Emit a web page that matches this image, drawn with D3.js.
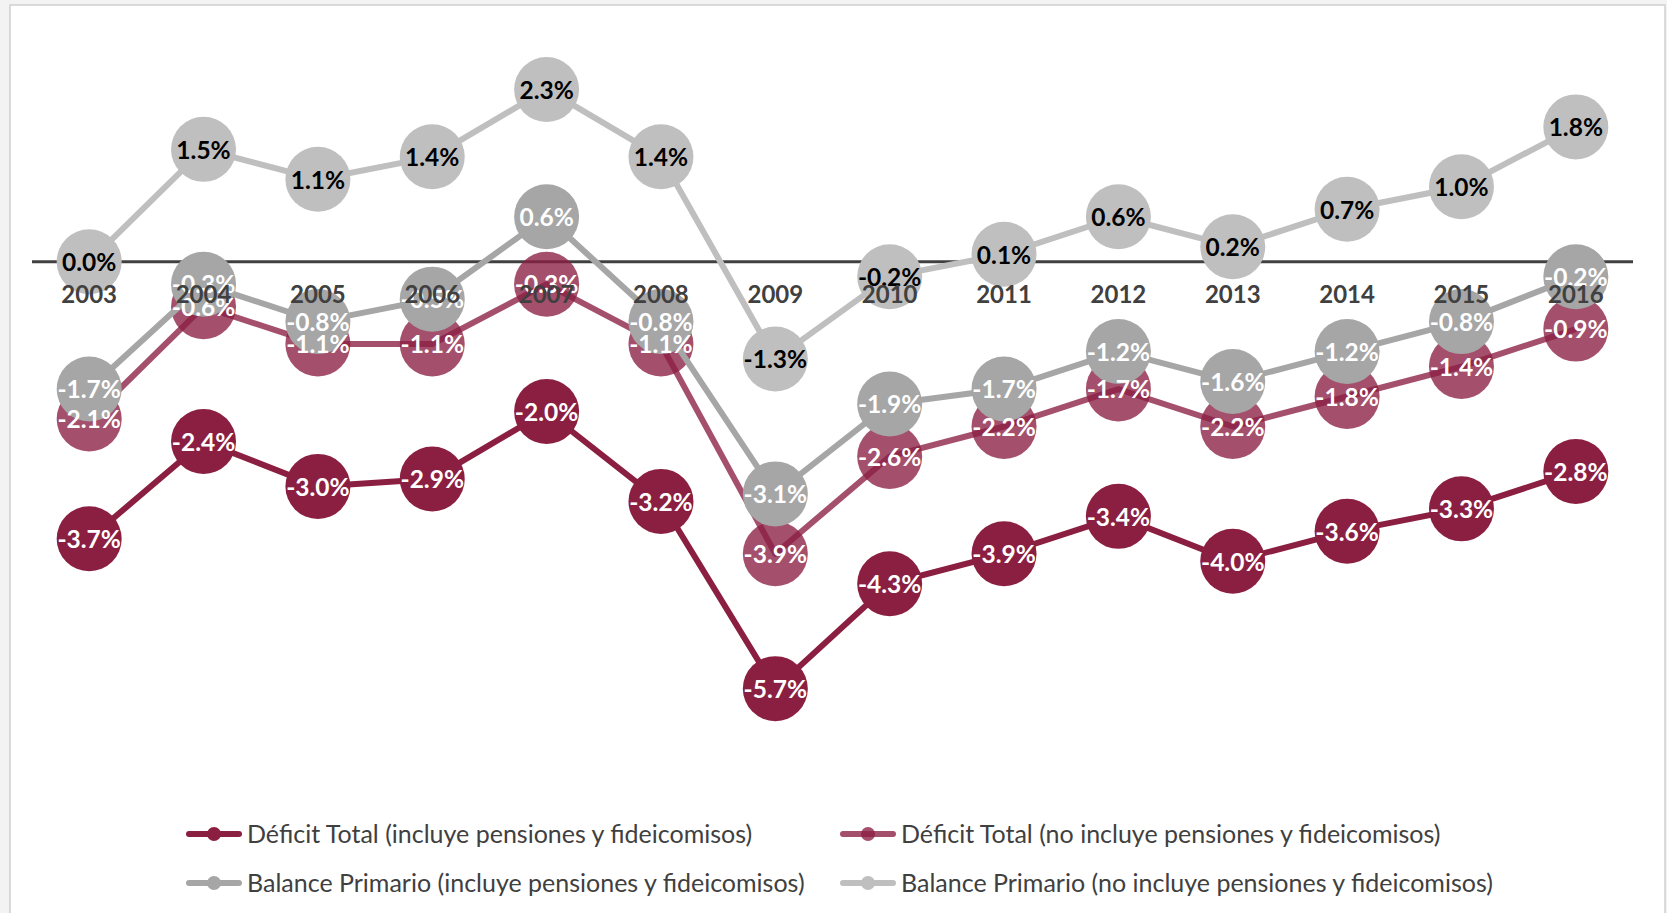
<!DOCTYPE html>
<html>
<head>
<meta charset="utf-8">
<script src="https://cdn.jsdelivr.net/npm/d3@7"></script>
<style>
  body { margin: 0; background: #f3f3f3; }
  svg { display: block; }
  .dlabel { font-family: Lato, "Open Sans", sans-serif; font-weight: 700; font-size: 24.5px; }
  .year { font-family: Lato, "Open Sans", sans-serif; font-weight: 700; font-size: 24px; fill: #404040; }
  .legtext { font-family: Lato, "Open Sans", sans-serif; font-size: 25px; fill: #404040; }
</style>
</head>
<body>
<script>

  //Data
  var years = ["2003", "2004", "2005", "2006", "2007", "2008", "2009", "2010", "2011", "2012", "2013", "2014", "2015", "2016"];
  var deficitIncluye = [-3.7, -2.4, -3.0, -2.9, -2.0, -3.2, -5.7, -4.3, -3.9, -3.4, -4.0, -3.6, -3.3, -2.8];
  var deficitNoIncluye = [-2.1, -0.6, -1.1, -1.1, -0.3, -1.1, -3.9, -2.6, -2.2, -1.7, -2.2, -1.8, -1.4, -0.9];
  var balanceIncluye = [-1.7, -0.3, -0.8, -0.5, 0.6, -0.8, -3.1, -1.9, -1.7, -1.2, -1.6, -1.2, -0.8, -0.2];
  var balanceNoIncluye = [0.0, 1.5, 1.1, 1.4, 2.3, 1.4, -1.3, -0.2, 0.1, 0.6, 0.2, 0.7, 1.0, 1.8];
  var seriesNames = [
    "Déficit Total (incluye pensiones y fideicomisos)",
    "Déficit Total (no incluye pensiones y fideicomisos)",
    "Balance Primario (incluye pensiones y fideicomisos)",
    "Balance Primario (no incluye pensiones y fideicomisos)"
  ];

  // series styles
  var seriesStyle = [
    { color: "#8b1f42", opacity: 1, text: "#ffffff" },
    { color: "#8b1f42", opacity: 0.78, text: "#ffffff" },
    { color: "#a6a6a6", opacity: 1, text: "#ffffff" },
    { color: "#bfbfbf", opacity: 1, text: "#000000" }
  ];

  var series = [deficitIncluye, deficitNoIncluye, balanceIncluye, balanceNoIncluye].map(function(vals, i) {
    return {
      name: seriesNames[i],
      style: seriesStyle[i],
      values: vals.map(function(v, j) { return { year: years[j], value: v }; })
    };
  });

  var width = 1667, height = 913;
  var radius = 32.5;

  var x = d3.scaleBand()
    .domain(years)
    .range([32, 1633]);

  var y = d3.scaleLinear()
    .domain([-7, 3])
    .range([786, 37]);

  var svg = d3.select("body")
    .append("svg")
    .attr("width", width)
    .attr("height", height);

  // chart frame
  svg.append("rect")
    .attr("x", 10)
    .attr("y", 5)
    .attr("width", 1655)
    .attr("height", 930)
    .attr("fill", "#ffffff")
    .attr("stroke", "#d0d0d0")
    .attr("stroke-width", 1.5);

  var cx = function(d) { return x(d.year) + x.bandwidth() / 2; };

  // zero line
  svg.append("line")
    .attr("x1", x.range()[0])
    .attr("x2", x.range()[1])
    .attr("y1", y(0))
    .attr("y2", y(0))
    .attr("stroke", "#404040")
    .attr("stroke-width", 3);

  var line = d3.line()
    .x(cx)
    .y(function(d) { return y(d.value); });

  // lines and markers, series by series
  series.forEach(function(s) {
    var g = svg.append("g").attr("class", "series");

    g.append("path")
      .datum(s.values)
      .attr("d", line)
      .attr("fill", "none")
      .attr("stroke", s.style.color)
      .attr("stroke-opacity", s.style.opacity)
      .attr("stroke-width", 6)
      .attr("stroke-linejoin", "round");

    g.selectAll("circle")
      .data(s.values)
      .enter().append("circle")
      .attr("cx", cx)
      .attr("cy", function(d) { return y(d.value); })
      .attr("r", radius)
      .attr("fill", s.style.color)
      .attr("fill-opacity", s.style.opacity);
  });

  // data labels
  series.forEach(function(s) {
    svg.append("g").selectAll("text")
      .data(s.values)
      .enter().append("text")
      .attr("class", "dlabel")
      .attr("x", cx)
      .attr("y", function(d) { return y(d.value); })
      .attr("dy", "0.38em")
      .attr("text-anchor", "middle")
      .attr("fill", s.style.text)
      .text(function(d) { return d.value.toFixed(1) + "%"; });
  });

  // category labels next to the zero line
  svg.append("g").selectAll(".year")
    .data(years)
    .enter().append("text")
    .attr("class", "year")
    .attr("x", function(d) { return x(d) + x.bandwidth() / 2; })
    .attr("y", 303)
    .attr("text-anchor", "middle")
    .text(function(d) { return d; });

  // legend
  var legendPos = [
    { x: 189, y: 834 },
    { x: 843, y: 834 },
    { x: 189, y: 883 },
    { x: 843, y: 883 }
  ];

  var legend = svg.append("g").selectAll(".legitem")
    .data(series)
    .enter().append("g")
    .attr("class", "legitem")
    .attr("transform", function(d, i) { return "translate(" + legendPos[i].x + "," + legendPos[i].y + ")"; });

  legend.append("line")
    .attr("x1", 0)
    .attr("x2", 50)
    .attr("stroke", function(d) { return d.style.color; })
    .attr("stroke-opacity", function(d) { return d.style.opacity; })
    .attr("stroke-width", 6)
    .attr("stroke-linecap", "round");

  legend.append("circle")
    .attr("cx", 25)
    .attr("r", 7)
    .attr("fill", function(d) { return d.style.color; })
    .attr("fill-opacity", function(d) { return d.style.opacity; });

  legend.append("text")
    .attr("class", "legtext")
    .attr("x", 58)
    .attr("dy", "0.35em")
    .text(function(d) { return d.name; });

</script>
</body>
</html>
